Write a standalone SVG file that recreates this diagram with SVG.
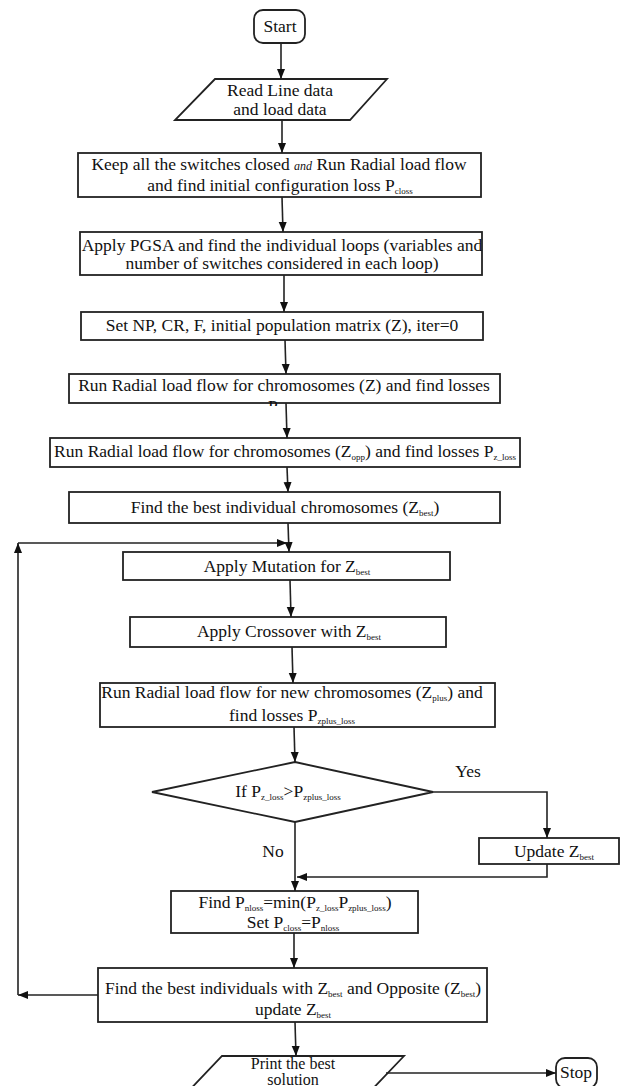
<svg xmlns="http://www.w3.org/2000/svg" width="621" height="1086" viewBox="0 0 621 1086">
<style>
.box{fill:#fff;stroke:#222;stroke-width:1.8}
.ln{fill:none;stroke:#222;stroke-width:1.6}
text{font-family:"Liberation Serif","Times New Roman","DejaVu Serif",serif;font-size:17.5px;fill:#111;text-anchor:middle}
.s{font-size:9px}
.p{font-size:16px}
</style>
<defs>
<marker id="ah" markerUnits="userSpaceOnUse" markerWidth="10" markerHeight="10" refX="10" refY="4" orient="auto">
<path d="M0,0 L10,4 L0,8 z" fill="#111"/>
</marker>
<clipPath id="c6"><rect x="0" y="380" width="621" height="26"/></clipPath>
</defs>

<g id="start"><rect class="box" x="254" y="10" width="51" height="33" rx="9"/><text x="280" y="32">Start</text></g>
<g id="read"><path class="box" d="M215,79 L387,79 L350,120 L175,120 Z"/><text x="280" y="96">Read Line data</text><text x="280" y="115">and load data</text></g>
<g id="keep"><rect class="box" x="78" y="153" width="403" height="44"/>
<text x="279" y="170">Keep all the switches closed <tspan font-style="italic" font-size="12">and</tspan> Run Radial load flow</text>
<text x="280" y="191">and find initial configuration loss P<tspan class="s" dy="3">closs</tspan></text></g>
<g id="pgsa"><rect class="box" x="80" y="232" width="402" height="43"/>
<text x="282" y="251">Apply PGSA and find the individual loops (variables and</text>
<text x="282" y="269">number of switches considered in each loop)</text></g>
<g id="set"><rect class="box" x="81" y="312" width="402" height="28"/><text x="282" y="331">Set NP, CR, F, initial population matrix (Z), iter=0</text></g>
<g id="rlfz"><rect class="box" x="69" y="374" width="431" height="29"/>
<text x="284" y="391">Run Radial load flow for chromosomes (Z) and find losses</text>
<text x="284" y="412" clip-path="url(#c6)">P<tspan class="s" dy="3">z_loss</tspan></text></g>
<g id="rlfopp"><rect class="box" x="50" y="438" width="470" height="29"/>
<text x="285" y="457">Run Radial load flow for chromosomes (Z<tspan class="s" dy="3">opp</tspan><tspan dy="-3">) and find losses P</tspan><tspan class="s" dy="3">z_loss</tspan></text></g>
<g id="best"><rect class="box" x="69" y="492" width="431" height="31"/>
<text x="285" y="513">Find the best individual chromosomes (Z<tspan class="s" dy="3">best</tspan><tspan dy="-3">)</tspan></text></g>
<g id="mut"><rect class="box" x="123" y="552" width="327" height="28"/><text x="287" y="572">Apply Mutation for Z<tspan class="s" dy="3">best</tspan></text></g>
<g id="cross"><rect class="box" x="130" y="617" width="316" height="30"/><text x="289" y="637">Apply Crossover with Z<tspan class="s" dy="3">best</tspan></text></g>
<g id="rlfnew"><rect class="box" x="100" y="683" width="395" height="44"/>
<text x="292" y="698">Run Radial load flow for new chromosomes (Z<tspan class="s" dy="3">plus</tspan><tspan dy="-3">) and</tspan></text>
<text x="292" y="721">find losses P<tspan class="s" dy="3">zplus_loss</tspan></text></g>
<g id="dec"><path class="box" d="M295,762 L433,792 L295,822 L152,792 Z"/>
<text x="288" y="797">If P<tspan class="s" dy="3">z_loss</tspan><tspan dy="-3">&gt;P</tspan><tspan class="s" dy="3">zplus_loss</tspan></text></g>
<g id="upd"><rect class="box" x="479" y="838" width="140" height="26"/><text x="554" y="857">Update Z<tspan class="s" dy="3">best</tspan></text></g>
<g id="minf"><rect class="box" x="171" y="891" width="247" height="42"/>
<text x="295" y="908">Find P<tspan class="s" dy="3">nloss</tspan><tspan dy="-3">=min(P</tspan><tspan class="s" dy="3">z_loss</tspan><tspan dy="-3">P</tspan><tspan class="s" dy="3">zplus_loss</tspan><tspan dy="-3">)</tspan></text>
<text x="293" y="928">Set P<tspan class="s" dy="3">closs</tspan><tspan dy="-3">=P</tspan><tspan class="s" dy="3">nloss</tspan></text></g>
<g id="opp"><rect class="box" x="98" y="968" width="389" height="54"/>
<text x="293" y="994">Find the best individuals with Z<tspan class="s" dy="3">best</tspan><tspan dy="-3"> and Opposite (Z</tspan><tspan class="s" dy="3">best</tspan><tspan dy="-3">)</tspan></text>
<text x="293" y="1015">update Z<tspan class="s" dy="3">best</tspan></text></g>
<g id="print"><path class="box" d="M222,1056 L404,1056 L362,1100 L180,1100 Z"/><text class="p" x="293" y="1069">Print the best</text><text class="p" x="293" y="1085">solution</text></g>
<g id="stop"><rect class="box" x="556" y="1058" width="41" height="30" rx="9"/><text x="576" y="1078">Stop</text></g>

<g id="connectors">
<path class="ln" d="M281,43 V79" marker-end="url(#ah)"/>
<path class="ln" d="M282,120 V153" marker-end="url(#ah)"/>
<path class="ln" d="M282,197 L283,232" marker-end="url(#ah)"/>
<path class="ln" d="M284,275 V312" marker-end="url(#ah)"/>
<path class="ln" d="M285,340 L286,374" marker-end="url(#ah)"/>
<path class="ln" d="M286,403 L287,438" marker-end="url(#ah)"/>
<path class="ln" d="M287,467 L288,492" marker-end="url(#ah)"/>
<path class="ln" d="M288,523 L289,552" marker-end="url(#ah)"/>
<path class="ln" d="M98,995 H18" marker-end="url(#ah)"/>
<path class="ln" d="M18,995 V543" marker-end="url(#ah)"/>
<path class="ln" d="M18,543 H287" marker-end="url(#ah)"/>
<path class="ln" d="M290,580 L291,617" marker-end="url(#ah)"/>
<path class="ln" d="M292,647 L293,683" marker-end="url(#ah)"/>
<path class="ln" d="M294,727 L295,762" marker-end="url(#ah)"/>
<path class="ln" d="M433,792 H547 V838" marker-end="url(#ah)"/>
<path class="ln" d="M295,822 V891" marker-end="url(#ah)"/>
<path class="ln" d="M547,864 V877 H297" marker-end="url(#ah)"/>
<path class="ln" d="M294,933 V968" marker-end="url(#ah)"/>
<path class="ln" d="M295,1022 L296,1056" marker-end="url(#ah)"/>
<path class="ln" d="M386,1073 H556" marker-end="url(#ah)"/>
<text x="468" y="777">Yes</text>
<text x="273" y="857">No</text>
</g>
</svg>
